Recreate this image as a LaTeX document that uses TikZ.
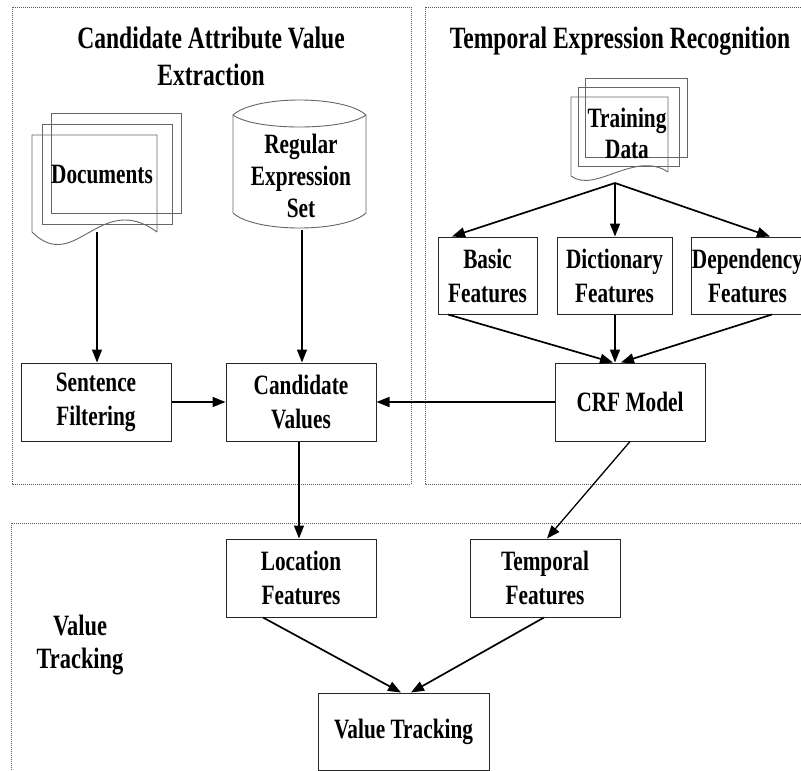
\documentclass[tikz,border=0pt]{standalone}
\usepackage{fontspec}
\setmainfont{Liberation Serif}[FakeStretch=0.76]
\usetikzlibrary{arrows.meta}
\newcommand\bxfont{\bfseries\fontsize{28}{34}\selectfont}
\newcommand\ttlfont{\bfseries\fontsize{31}{37}\selectfont}
\tikzset{
  frame/.style={draw=black!65, line width=0.8pt, dash pattern=on 1pt off 1pt},
  proc/.style={draw=black!85, line width=1pt, minimum width=150pt, minimum height=78pt,
    align=center, font=\bxfont, inner sep=0pt},
  lbl/.style={align=center, font=\bxfont, inner sep=0pt},
  ttl/.style={font=\ttlfont, inner sep=0pt, anchor=base},
  page/.style={draw=black!60, line width=0.9pt},
  arr/.style={line width=1.7pt, -{Triangle[length=13pt,width=10pt]}},
  arrthin/.style={line width=1.3pt, -{Triangle[length=13pt,width=10pt]}},
}
\begin{document}
\begin{tikzpicture}[x=1pt,y=-1pt]
\useasboundingbox (0,0) rectangle (801,771);
\clip (0,0) rectangle (801,771);
\fill[white] (0,0) rectangle (801,771);

% group frames
\draw[frame] (12,7) rectangle (411,484);
\draw[frame] (425,7) rectangle (810,484);
\draw[frame] (11,523) rectangle (810,790);

% group titles
\node[ttl] (t1a) at (211,48) {Candidate Attribute Value};
\node[ttl] (t1b) at (211,85) {Extraction};
\node[ttl] (t2) at (620,48) {Temporal Expression Recognition};
\node[anchor=base, font=\bfseries\fontsize{29.5}{33}\selectfont, inner sep=0pt] (vt1) at (80,635) {Value};
\node[anchor=base, font=\bfseries\fontsize{29.5}{33}\selectfont, inner sep=0pt] (vt2) at (80,668) {Tracking};

% document stack: Documents
\draw[page] (51,113) rectangle (181,213);
\draw[page] (42,124) rectangle (172,224);
\draw[page] (157,232) -- (157,135) -- (32,135) -- (32,232)
  .. controls (75,275) and (100,190) .. (157,232);
\node[lbl] (docs) at (102,175) {Documents};
\coordinate (docsbot) at (97,232);

% database cylinder: Regular Expression Set
\draw[page] (233,213) -- (233,115) .. controls (255,95) and (344,95) .. (366,115)
  -- (366,213) .. controls (344,233) and (255,233) .. (233,213);
\draw[page] (233,115) .. controls (255,131) and (344,131) .. (366,115);
\node[lbl, font=\bfseries\fontsize{28}{32}\selectfont] (regex) at (301,176) {Regular\\Expression\\Set};
\coordinate (regbot) at (302,230);

% document stack: Training Data
\draw[page] (585,78) rectangle (687,157);
\draw[page] (578,87) rectangle (679,166);
\draw[page] (668,172) -- (668,97) -- (571,97) -- (571,176)
  .. controls (595,194) and (635,150) .. (668,172);
\node[lbl, font=\bfseries\fontsize{28}{31}\selectfont] (td) at (627,133) {Training\\Data};
\coordinate (tdbot) at (615,183);

% process boxes
\node[proc] (sf) at (96,402) {Sentence\\Filtering};
\node[proc] (cv) at (301,402) {Candidate\\Values};
\node[proc] (crf) at (630,402) {CRF Model};
\node[proc, minimum width=99pt, minimum height=77pt] (basic) at (487.5,275.5) {Basic\\Features};
\node[proc, minimum width=115pt, minimum height=77pt] (dict) at (614.5,275.5) {Dictionary\\Features};
\node[proc, minimum width=107pt, minimum height=77pt] (dep) at (747.5,275.5) {Dependency\\Features};
\node[proc] (loc) at (301,578) {Location\\Features};
\node[proc] (temp) at (545,578) {Temporal\\Features};
\node[proc, minimum width=171pt, minimum height=77pt] (vt) at (403.5,731.5) {Value Tracking};

% connectors
\draw[arrthin] (docsbot) -- (docsbot |- sf.north);
\draw[arrthin] (regbot) -- (regbot |- cv.north);
\draw[arr] (sf.east) -- (cv.west);
\draw[arr] (crf.west) -- (cv.east);
\draw[arr] (tdbot) -- ([xshift=-35.5pt]basic.north);
\draw[arr] (tdbot) -- (tdbot |- dict.north);
\draw[arr] (tdbot) -- ([xshift=22.5pt]dep.north);
\draw[arr] ([xshift=-39.5pt]basic.south) -- ([xshift=-17pt]crf.north);
\draw[arr] ([xshift=0.5pt]dict.south) -- ([xshift=-15pt]crf.north);
\draw[arr] ([xshift=24.5pt]dep.south) -- ([xshift=-9pt]crf.north);
\draw[arrthin] ([xshift=-2pt]cv.south) -- ([xshift=-2pt]loc.north);
\draw[arrthin] (crf.south) -- ([xshift=2pt]temp.north);
\draw[arr] ([xshift=-38pt]loc.south) -- ([xshift=-2.5pt]vt.north);
\draw[arr] ([xshift=-1pt]temp.south) -- ([xshift=7.5pt]vt.north);
\end{tikzpicture}
\end{document}
